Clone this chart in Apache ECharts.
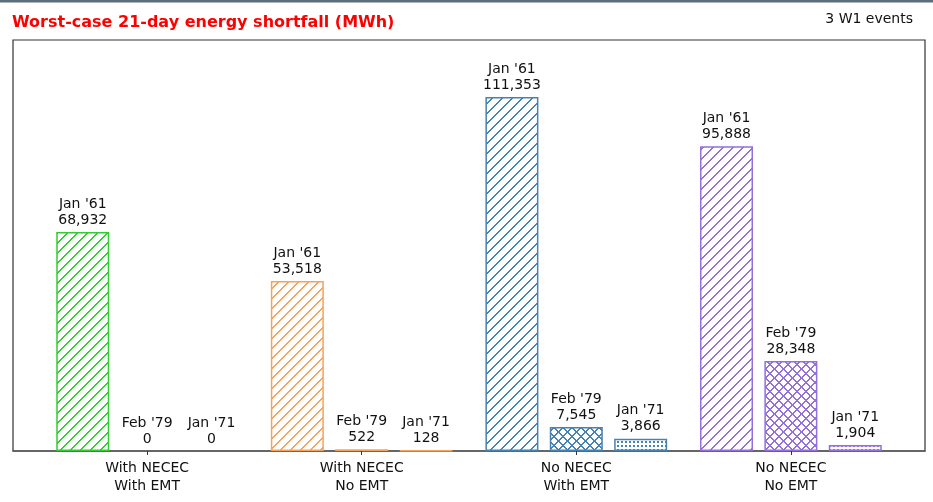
<!DOCTYPE html>
<html>
<head>
<meta charset="utf-8">
<script src="https://cdn.jsdelivr.net/npm/echarts@6/dist/echarts.min.js"></script>
<style>
  html, body { margin: 0; padding: 0; background: #fff; }
  #main { width: 933px; height: 502px; }
</style>
</head>
<body>
<div id="main"></div>
<script>
// scenario groups on the x axis
var groups = ['With NECEC\nWith EMT', 'With NECEC\nNo EMT', 'No NECEC\nWith EMT', 'No NECEC\nNo EMT'];
var groupColors = ['#33cc33', '#f5a35c', '#4682b4', '#9370db'];

// the three W1 events, one bar each per group
var events = ["Jan '61", "Feb '79", "Jan '71"];
var janSixtyOne = [68932, 53518, 111353, 95888];
var febSeventyNine = [0, 522, 7545, 28348];
var janSeventyOne = [0, 128, 3866, 1904];

var eventValues = [janSixtyOne, febSeventyNine, janSeventyOne];
var eventOffsets = [-0.3, 0, 0.3];
var hatches = ['diag', 'cross', 'dots'];

// small tiles used as fill patterns (pixel drawn, no strokes)
function makeHatch(kind, color) {
  var s = kind === 'dots' ? 4 : (kind === 'diag' ? 10 : 9);
  var c = document.createElement('canvas');
  c.width = s; c.height = s;
  var ctx = c.getContext('2d');
  ctx.fillStyle = '#ffffff';
  ctx.fillRect(0, 0, s, s);
  ctx.fillStyle = color;
  if (kind === 'dots') {
    ctx.fillRect(1, 1, 2, 2);
    return c;
  }
  for (var i = 0; i < s; i++) {
    // '/' line, two pixels wide, wrapping at the tile edge
    ctx.fillRect(i, s - 1 - i, 2, 1);
    if (i === s - 1) ctx.fillRect(0, 0, 1, 1);
    if (kind === 'cross') {
      // '\' line
      ctx.fillRect(i, i, 2, 1);
      if (i === s - 1) ctx.fillRect(0, s - 1, 1, 1);
    }
  }
  return c;
}

function fmt(v) {
  return String(v).replace(/\B(?=(\d{3})+(?!\d))/g, ',');
}

// one bar series, every bar placed at group index + event offset
var barData = [];
events.forEach(function (ev, k) {
  eventValues[k].forEach(function (v, i) {
    barData.push({
      value: [i + eventOffsets[k], v],
      event: ev,
      itemStyle: {
        color: { image: makeHatch(hatches[k], groupColors[i]), repeat: 'repeat' },
        borderColor: groupColors[i],
        borderWidth: v === 0 ? 0 : 1.5
      }
    });
  });
});

var myChart = echarts.init(document.getElementById('main'));

var option = {
  animation: false,
  backgroundColor: '#fff',
  title: [{
    text: 'Worst-case 21-day energy shortfall (MWh)',
    left: 12,
    top: 15,
    padding: 0,
    textStyle: { color: '#ff0000', fontSize: 16, fontWeight: 'bold', fontFamily: 'DejaVu Sans' }
  }, {
    text: '3 W1 events',
    right: 20,
    top: 12,
    padding: 0,
    textStyle: { color: '#111', fontSize: 14, fontWeight: 'normal', fontFamily: 'DejaVu Sans' }
  }],
  graphic: [{
    type: 'rect',
    shape: { x: 0, y: 0, width: 933, height: 2.5 },
    style: { fill: '#5d6d7a' }
  }],
  grid: {
    left: 13, right: 8, top: 40, bottom: 51,
    show: true,
    borderColor: '#333',
    borderWidth: 1.2
  },
  xAxis: {
    type: 'value',
    min: -0.625,
    max: 3.625,
    splitLine: { show: false },
    axisLine: { show: true, lineStyle: { color: '#555', width: 1.5 } },
    axisTick: { show: true, length: 4, customValues: [0, 1, 2, 3], lineStyle: { color: '#333' } },
    axisLabel: {
      customValues: [0, 1, 2, 3],
      margin: 8,
      color: '#111',
      fontSize: 14,
      lineHeight: 18,
      fontFamily: 'DejaVu Sans',
      formatter: function (v) { return groups[Math.round(v)]; }
    }
  },
  yAxis: {
    type: 'value',
    min: 0,
    max: 129300,
    show: false,
    splitLine: { show: false }
  },
  series: [{
    type: 'bar',
    barWidth: 53,
    data: barData,
    label: {
      show: true,
      position: 'top',
      distance: 4,
      color: '#111',
      fontSize: 14,
      lineHeight: 16,
      fontFamily: 'DejaVu Sans',
      formatter: function (p) {
        return p.data.event + '\n' + fmt(p.data.value[1]);
      }
    }
  }]
};

myChart.setOption(option);
</script>
</body>
</html>
